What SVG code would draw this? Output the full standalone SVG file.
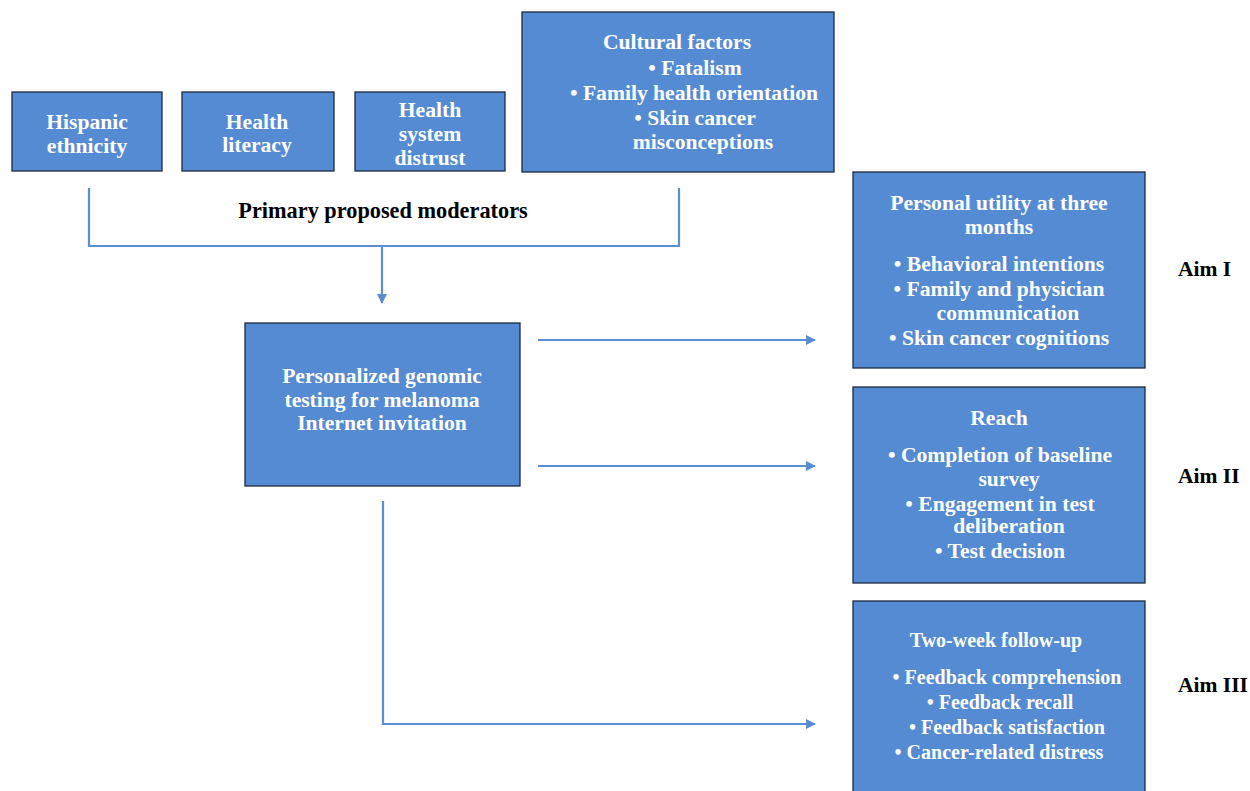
<svg xmlns="http://www.w3.org/2000/svg" width="1250" height="791" viewBox="0 0 1250 791">
<style>
.box{fill:#558bd3;stroke:#1e2a40;stroke-width:1.3}
.t{font-family:'Liberation Serif',serif;font-weight:bold;font-size:21.6px;fill:#ffffff;text-anchor:middle}
.s{font-size:20px}
.k{font-family:'Liberation Serif',serif;font-weight:bold;font-size:21.5px;fill:#000000}
.m{font-size:22.3px}
.ln{fill:none;stroke:#5b8dd2;stroke-width:2.2}
</style>
<defs>
<marker id="ah" markerWidth="10" markerHeight="10" refX="9" refY="5" orient="auto" markerUnits="userSpaceOnUse">
<path d="M0,0 L10,5 L0,10 Z" fill="#5b8dd2"/>
</marker>
</defs>
<rect width="1250" height="791" fill="#ffffff"/>
<g id="connectors">
<path class="ln" d="M89,188 V246 H679 V188"/>
<path class="ln" d="M382,246 V303" marker-end="url(#ah)"/>
<path class="ln" d="M538,340 H815" marker-end="url(#ah)"/>
<path class="ln" d="M538,466 H815" marker-end="url(#ah)"/>
<path class="ln" d="M383,501 V724 H815" marker-end="url(#ah)"/>
</g>
<g id="hispanic">
<rect class="box" x="12" y="92" width="150" height="79"/>
<text class="t" x="87" y="129">Hispanic</text>
<text class="t" x="87" y="153">ethnicity</text>
</g>
<g id="literacy">
<rect class="box" x="182" y="92" width="152" height="79"/>
<text class="t" x="257" y="129">Health</text>
<text class="t" x="257" y="152">literacy</text>
</g>
<g id="distrust">
<rect class="box" x="355" y="92" width="150" height="79"/>
<text class="t" x="430" y="117">Health</text>
<text class="t" x="430" y="141">system</text>
<text class="t" x="430" y="165">distrust</text>
</g>
<g id="cultural">
<rect class="box" x="522" y="12" width="312" height="160"/>
<text class="t" x="677" y="49">Cultural factors</text>
<text class="t" x="695" y="75">• Fatalism</text>
<text class="t" x="694" y="100">• Family health orientation</text>
<text class="t" x="695" y="125">• Skin cancer</text>
<text class="t" x="703" y="149">misconceptions</text>
</g>
<g id="moderators-label">
<text class="k m" x="383" y="218" text-anchor="middle">Primary proposed moderators</text>
</g>
<g id="intervention">
<rect class="box" x="245" y="323" width="275" height="163"/>
<text class="t" x="382" y="383">Personalized genomic</text>
<text class="t" x="382" y="407">testing for melanoma</text>
<text class="t" x="382" y="430">Internet invitation</text>
</g>
<g id="utility">
<rect class="box" x="853" y="172" width="292" height="196"/>
<text class="t" x="999" y="210">Personal utility at three</text>
<text class="t" x="999" y="234">months</text>
<text class="t" x="999" y="271">• Behavioral intentions</text>
<text class="t" x="999" y="296">• Family and physician</text>
<text class="t" x="1008" y="320">communication</text>
<text class="t" x="999" y="345">• Skin cancer cognitions</text>
</g>
<g id="reach">
<rect class="box" x="853" y="387" width="292" height="196"/>
<text class="t" x="999" y="425">Reach</text>
<text class="t" x="1000" y="462">• Completion of baseline</text>
<text class="t" x="1009" y="486">survey</text>
<text class="t" x="1000" y="511">• Engagement in test</text>
<text class="t" x="1009" y="533">deliberation</text>
<text class="t" x="1000" y="558">• Test decision</text>
</g>
<g id="followup">
<rect class="box" x="853" y="601" width="292" height="200"/>
<text class="t s" x="996" y="647">Two-week follow-up</text>
<text class="t s" x="1007" y="684">• Feedback comprehension</text>
<text class="t s" x="1000" y="709">• Feedback recall</text>
<text class="t s" x="1007" y="734">• Feedback satisfaction</text>
<text class="t s" x="999" y="759">• Cancer-related distress</text>
</g>
<g id="aims">
<text class="k" x="1178" y="276">Aim I</text>
<text class="k" x="1178" y="483">Aim II</text>
<text class="k" x="1178" y="692">Aim III</text>
</g>
</svg>
